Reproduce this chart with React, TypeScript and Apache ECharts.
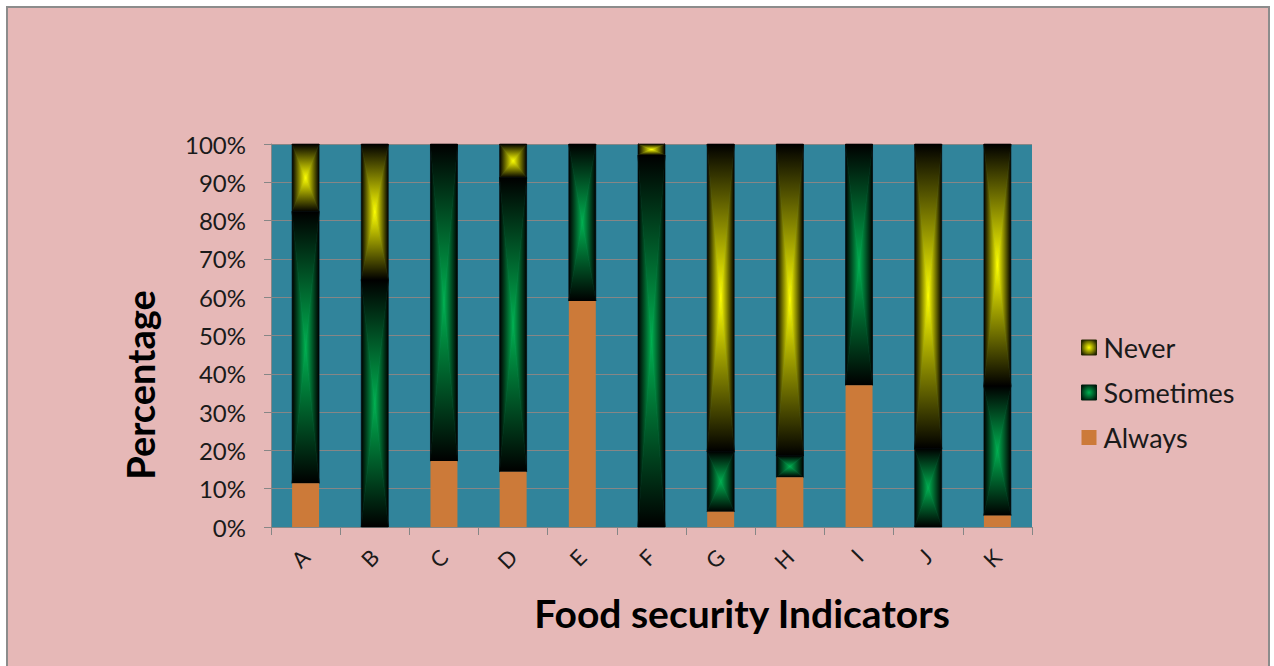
import React, { useEffect, useRef } from "react";
import * as echarts from "echarts";

const categories = ["A", "B", "C", "D", "E", "F", "G", "H", "I", "J", "K"];
const always = [11.4, 0, 17.2, 14.4, 59, 0, 4, 13, 37, 0, 3];
const sometimes = [70.9, 64.5, 82.8, 76.8, 41, 97.1, 15.7, 5.6, 63, 20.5, 33.8];
const never = [17.7, 35.5, 0, 8.8, 0, 2.9, 80.3, 81.4, 0, 79.5, 63.2];
const yTicks = [0, 10, 20, 30, 40, 50, 60, 70, 80, 90, 100];

const FONT = "Lato, 'DejaVu Sans', sans-serif";
const BAR_RATIO = 0.39;

function pathGradientItem(dark: string, bright: string) {
  return (params: any, api: any) => {
    const cat = api.value(0);
    const lo = api.value(1);
    const hi = api.value(2);
    if (!(hi - lo > 0)) return null;
    const pLo = api.coord([cat, lo]);
    const pHi = api.coord([cat, hi]);
    const bw = api.size([1, 0])[0] * BAR_RATIO;
    const cx = pLo[0];
    const x0 = cx - bw / 2;
    const x1 = cx + bw / 2;
    const yT = pHi[1];
    const yB = pLo[1];
    const cy = (yT + yB) / 2;
    const g = (a: number, b: number, c: number, d: number) =>
      new echarts.graphic.LinearGradient(a, b, c, d, [
        { offset: 0, color: dark },
        { offset: 1, color: bright },
      ]);
    const tri = (pts: number[][], grad: any) => ({
      type: "polygon",
      shape: { points: pts },
      style: { fill: grad, stroke: grad, lineWidth: 0.6 },
    });
    return {
      type: "group",
      children: [
        tri([[x0, yT], [x0, yB], [cx, cy]], g(0, 0, 1, 0)),
        tri([[x1, yT], [x1, yB], [cx, cy]], g(1, 0, 0, 0)),
        tri([[x0, yT], [x1, yT], [cx, cy]], g(0, 0, 0, 1)),
        tri([[x0, yB], [x1, yB], [cx, cy]], g(0, 1, 0, 0)),
      ],
    };
  };
}

export default function App() {
  const ref = useRef<HTMLDivElement>(null);
  useEffect(() => {
    if (!ref.current) return;
    const chart = echarts.init(ref.current, undefined, { renderer: "svg" });
    const sometimesData = categories.map((_, i) => [i, always[i], always[i] + sometimes[i]]);
    const neverData = categories.map((_, i) => [
      i,
      always[i] + sometimes[i],
      always[i] + sometimes[i] + never[i],
    ]);
    const radial = (c: string) =>
      new echarts.graphic.RadialGradient(0.5, 0.5, 0.7, [
        { offset: 0, color: c },
        { offset: 1, color: "#000000" },
      ]);
    chart.setOption({
      animation: false,
      backgroundColor: "#ffffff",
      textStyle: { fontFamily: FONT },
      graphic: [
        {
          type: "rect",
          z: -10,
          shape: { x: 7, y: 7, width: 1262, height: 700 },
          style: { fill: "#E6B8B7", stroke: "#8C8C8C", lineWidth: 2 },
          silent: true,
        },
        {
          type: "text",
          x: 140,
          y: 385,
          rotation: Math.PI / 2,
          style: {
            text: "Percentage",
            fontFamily: FONT,
            fontWeight: "bold",
            fontSize: 38,
            fill: "#000000",
            align: "center",
            verticalAlign: "middle",
          },
        },
        {
          type: "text",
          x: 742,
          y: 613,
          style: {
            text: "Food security Indicators",
            fontFamily: FONT,
            fontWeight: "bold",
            fontSize: 39,
            fill: "#000000",
            align: "center",
            verticalAlign: "middle",
          },
        },
      ],
      grid: {
        left: 271,
        top: 144,
        width: 761,
        height: 383,
        show: true,
        backgroundColor: "#31849B",
        borderWidth: 0,
      },
      legend: {
        orient: "vertical",
        left: 1076,
        top: 329,
        itemWidth: 15,
        itemHeight: 15,
        itemGap: 18,
        icon: "rect",
        textStyle: { fontFamily: FONT, fontSize: 27, color: "#1a1a1a", padding: [0, 0, 0, 2] },
        data: [
          { name: "Never", itemStyle: { color: radial("#FFFF00"), borderColor: "#2b2b00", borderWidth: 1 } },
          { name: "Sometimes", itemStyle: { color: radial("#00B050"), borderColor: "#002010", borderWidth: 1 } },
          { name: "Always", itemStyle: { color: "#CC7A39" } },
        ],
      },
      xAxis: {
        type: "category",
        data: categories,
        axisLine: { show: true, lineStyle: { color: "#868686", width: 1 } },
        axisTick: { show: true, length: 8, lineStyle: { color: "#868686" } },
        axisLabel: {
          rotate: 45,
          margin: 26,
          fontSize: 22,
          fontFamily: FONT,
          color: "#1a1a1a",
        },
        splitLine: { show: false },
      },
      yAxis: {
        type: "value",
        min: 0,
        max: 100,
        interval: 10,
        axisLine: { show: true, lineStyle: { color: "#868686", width: 1 } },
        axisTick: { show: true, length: 7, lineStyle: { color: "#868686" } },
        axisLabel: {
          formatter: (v: number) => (yTicks.includes(v) ? `${v}%` : ""),
          fontSize: 24,
          fontFamily: FONT,
          color: "#1a1a1a",
          margin: 25,
        },
        splitLine: { show: true, lineStyle: { color: "#868686", width: 1 } },
      },
      series: [
        {
          name: "Always",
          type: "bar",
          data: always,
          barWidth: `${BAR_RATIO * 100}%`,
          itemStyle: { color: "#CC7A39" },
          z: 3,
        },
        {
          name: "Sometimes",
          type: "custom",
          data: sometimesData,
          encode: { x: 0, y: [1, 2] },
          itemStyle: { color: "#00B050" },
          renderItem: pathGradientItem("#000000", "#00B050"),
          z: 3,
        },
        {
          name: "Never",
          type: "custom",
          data: neverData,
          encode: { x: 0, y: [1, 2] },
          itemStyle: { color: "#FFFF00" },
          renderItem: pathGradientItem("#000000", "#FFFF00"),
          z: 3,
        },
      ],
    });
    return () => chart.dispose();
  }, []);
  return (
    <div
      ref={ref}
      style={{ position: "fixed", left: 0, top: 0, width: 1274, height: 666 }}
    />
  );
}
